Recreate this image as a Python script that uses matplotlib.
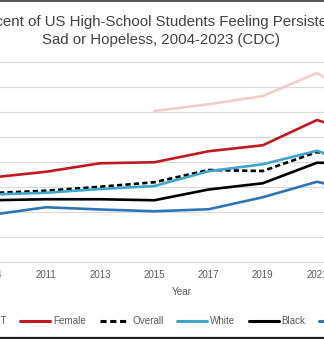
import numpy as np
import matplotlib
matplotlib.use("Agg")
import matplotlib.pyplot as plt
from matplotlib.lines import Line2D

plt.rcParams["font.family"] = ["Liberation Sans", "DejaVu Sans"]

# Survey years (category axis, equally spaced)
years = ["2004", "2011", "2013", "2015", "2017", "2019", "2021", "2023"]

# Percent of students reporting persistent sadness or hopelessness
lgbt = [np.nan, np.nan, np.nan, 60.4, 63.1, 66.4, 75.6, 62.0]
female = [33.8, 36.1, 39.5, 39.9, 44.3, 46.7, 56.8, 50.0]
overall = [27.6, 28.5, 30.1, 31.9, 36.8, 36.4, 44.0, 40.0]
white = [27.0, 27.7, 29.2, 30.4, 36.3, 39.1, 44.5, 37.0]
black = [24.7, 25.1, 25.1, 24.7, 29.0, 31.5, 39.7, 39.5]
asian = [18.9, 21.9, 21.0, 20.3, 21.1, 25.9, 32.1, 27.0]

series = [
    ("LGBT", lgbt, "#f4cccc", "-"),
    ("Female", female, "#c0191f", "-"),
    ("Overall", overall, "#000000", (0, (2.0, 1.2))),
    ("White", white, "#3ea6c8", "-"),
    ("Black", black, "#000000", "-"),
    ("Asian", asian, "#2e75b6", "-"),
]

W, H = 324, 339
fig = plt.figure(figsize=(W / 100, H / 100), dpi=100)

# plot area in pixel coordinates (extends past the canvas on both sides)
px_left, px_right = -35.3, 398.3
px_top, px_bottom = 62.0, 262.0
ax = fig.add_axes([px_left / W, (H - px_bottom) / H,
                   (px_right - px_left) / W, (px_bottom - px_top) / H])

x = np.arange(len(years))
handles = []
for name, vals, color, ls in series:
    (ln,) = ax.plot(x, vals, color=color, lw=1.9, linestyle=ls,
                    solid_capstyle="round", label=name)
    handles.append(ln)

ax.set_xlim(-0.5, len(years) - 0.5)
ax.set_ylim(0, 80)
ax.set_yticks(np.arange(0, 81, 10))
ax.set_yticklabels([f"{v}%" for v in range(0, 81, 10)])
ax.set_xticks(x)
ax.set_xticklabels(years)
ax.grid(axis="y", color="#d9d9d9", lw=0.8)
ax.set_axisbelow(True)
for s in ("top", "right", "left"):
    ax.spines[s].set_visible(False)
ax.spines["bottom"].set_color("#d9d9d9")
ax.spines["bottom"].set_linewidth(0.8)
ax.tick_params(length=0, pad=6, labelsize=7, colors="#595959")
ax.set_xlabel("Year", fontsize=7.2, color="#595959", labelpad=5)

fig.text(161.5 / W, 1 - 31.0 / H,
         "Percent of US High-School Students Feeling Persistently\n"
         "Sad or Hopeless, 2004-2023 (CDC)",
         ha="center", va="center", fontsize=10.8, color="#404040",
         linespacing=1.38)

leg = fig.legend(handles, [h.get_label() for h in handles],
                 loc="center left", bbox_to_anchor=(-51.4 / W, 18 / H),
                 ncol=6, frameon=False, fontsize=7.1, labelcolor="#595959",
                 handlelength=3.03, handletextpad=0.3, columnspacing=1.36,
                 borderpad=0, borderaxespad=0)
for lh in leg.get_lines():
    lh.set_linewidth(2.2)

# chart frame edges at top and bottom
fig.add_artist(Line2D([0, 1], [1 - 0.8 / H, 1 - 0.8 / H],
                      transform=fig.transFigure, color="#333333", lw=1.2))
fig.add_artist(Line2D([0, 1], [1.2 / H, 1.2 / H],
                      transform=fig.transFigure, color="#222222", lw=1.6))

fig.savefig("out.png", dpi=100)
